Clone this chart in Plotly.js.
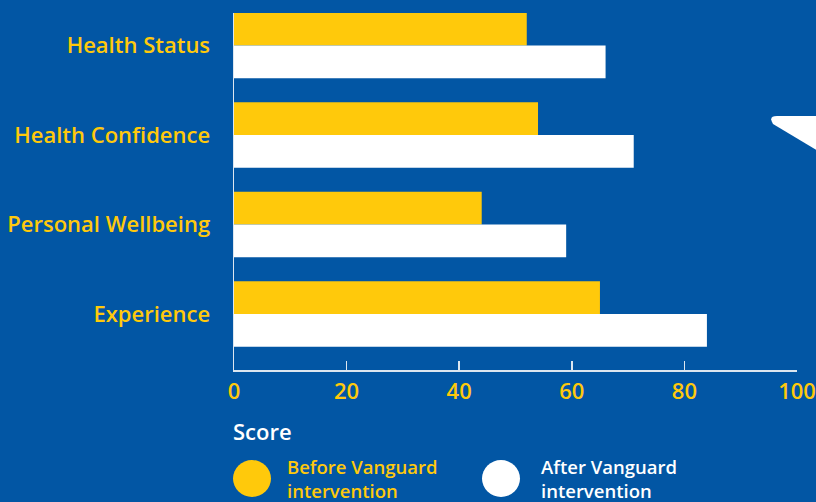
<!DOCTYPE html>
<html>
<head>
<meta charset="utf-8">
<script src="https://cdn.plot.ly/plotly-3.0.1.min.js"></script>
<style>html,body{margin:0;padding:0;background:#0256A4;}#chart{width:816px;height:502px;}</style>
</head>
<body>
<div id="chart"></div>
<script>
const categories = ["Health Status", "Health Confidence", "Personal Wellbeing", "Experience"];
const beforeValues = [52, 54, 44, 65];
const afterValues = [66, 71, 59, 84];
const tickValues = [0, 20, 40, 60, 80, 100];
const seriesNames = ["Before Vanguard<br>intervention", "After Vanguard<br>intervention"];
const axisTitle = "Score";

const BG = "#0256A4", YEL = "#FFC90B", WHITE = "#FFFFFF", AXIS = "#DCE6F0";
const FONT = "'Open Sans', sans-serif";

const traces = [
  {type: "bar", orientation: "h", y: categories, x: beforeValues, name: seriesNames[0],
   marker: {color: YEL}, showlegend: false, hoverinfo: "skip"},
  {type: "bar", orientation: "h", y: categories, x: afterValues, name: seriesNames[1],
   marker: {color: WHITE}, showlegend: false, hoverinfo: "skip"}
];

// plot area: x 234..797, y 13..370
const L = 234, R = 797, T = 13, B = 370, W = 816, H = 502;
const px = v => (v - L) / (R - L);
const py = v => (B - v) / (B - T);

const layout = {
  width: W, height: H,
  paper_bgcolor: BG, plot_bgcolor: BG,
  margin: {l: L, r: W - R, t: T, b: H - B},
  barmode: "group", bargap: 0.27, bargroupgap: 0,
  font: {family: FONT, color: YEL, size: 22, weight: 600},
  xaxis: {range: [0, 100], tickvals: tickValues, ticks: "inside", ticklen: 9, tickwidth: 1.5,
    tickcolor: AXIS, showline: true, linecolor: AXIS, linewidth: 1.5, showgrid: false, zeroline: false,
    tickfont: {family: FONT, color: YEL, size: 22, weight: 600}, ticklabelstandoff: 1, fixedrange: true},
  yaxis: {type: "category", categoryorder: "array", categoryarray: categories,
    range: [3.626, -0.363], showline: true, linecolor: AXIS, linewidth: 1.5, ticks: "", showgrid: false,
    zeroline: false, tickfont: {family: FONT, color: YEL, size: 22, weight: 600}, ticklabelstandoff: 18, fixedrange: true},
  showlegend: false,
  shapes: [
    {type: "path", xref: "paper", yref: "paper", layer: "above",
     path: "M " + px(830) + " " + py(116) + " L " + px(777) + " " + py(116) +
           " Q " + px(768) + " " + py(116) + " " + px(773) + " " + py(124) +
           " L " + px(830) + " " + py(158) + " Z",
     fillcolor: WHITE, line: {width: 0}},
    {type: "circle", xref: "paper", yref: "paper", x0: px(233), x1: px(271), y0: py(460), y1: py(497),
     fillcolor: YEL, line: {width: 0}},
    {type: "circle", xref: "paper", yref: "paper", x0: px(482), x1: px(520), y0: py(460), y1: py(497),
     fillcolor: WHITE, line: {width: 0}}
  ],
  annotations: [
    {text: axisTitle, xref: "paper", yref: "paper", x: px(231), y: py(431), xanchor: "left", yanchor: "middle",
     showarrow: false, font: {family: FONT, color: WHITE, size: 22, weight: 600}},
    {text: seriesNames[0], xref: "paper", yref: "paper", x: px(285), y: py(478), xanchor: "left", yanchor: "middle",
     align: "left", showarrow: false, font: {family: FONT, color: YEL, size: 18.5, weight: 600}},
    {text: seriesNames[1], xref: "paper", yref: "paper", x: px(539), y: py(478), xanchor: "left", yanchor: "middle",
     align: "left", showarrow: false, font: {family: FONT, color: WHITE, size: 18.5, weight: 600}}
  ]
};

Plotly.newPlot("chart", traces, layout, {displayModeBar: false, staticPlot: true});
</script>
</body>
</html>
